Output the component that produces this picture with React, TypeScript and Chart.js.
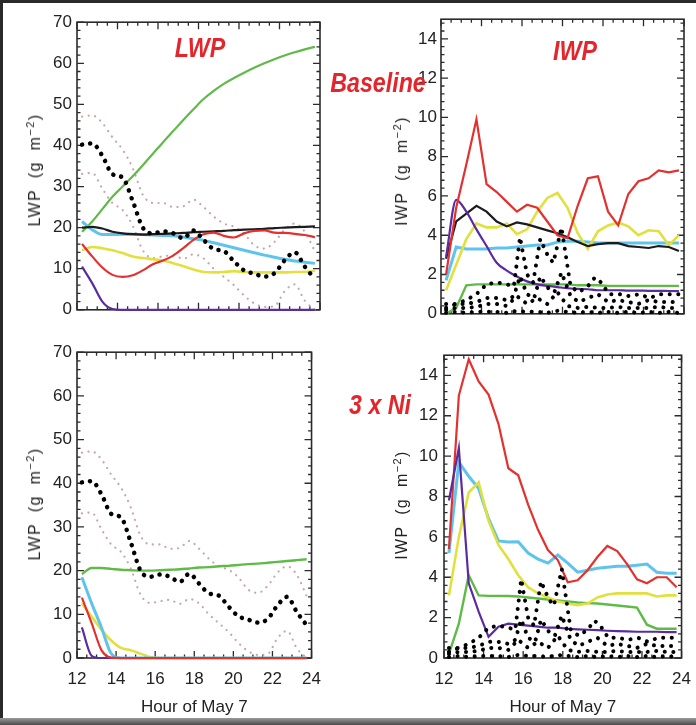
import React, { useEffect, useRef } from "react";
import { Chart, registerables } from "chart.js";
Chart.register(...registerables);

// ---------- shared axes ----------
const hours = [12.25, 12.75, 13.25, 13.75, 14.25, 14.75, 15.25, 15.75, 16.25, 16.75, 17.25, 17.75, 18.25, 18.75, 19.25, 19.75, 20.25, 20.75, 21.25, 21.75, 22.25, 22.75, 23.25, 23.75];
const hourTicks = [12, 14, 16, 18, 20, 22, 24];
const lwpTicks = [0, 10, 20, 30, 40, 50, 60, 70];
const iwpTicks = [0, 2, 4, 6, 8, 10, 12, 14];

// ---------- LWP, Baseline ----------
const lwpBaseGreen = [19.0, 21.5, 24.5, 27.5, 30.0, 32.5, 35.2, 38.0, 40.8, 43.5, 46.2, 48.8, 51.3, 53.3, 55.0, 56.4, 57.7, 58.9, 60.0, 61.0, 61.9, 62.7, 63.4, 64.0];
const lwpBaseBlack = [20.0, 20.2, 19.8, 19.0, 18.6, 18.4, 18.3, 18.4, 18.5, 18.6, 18.7, 18.9, 19.0, 19.1, 19.2, 19.4, 19.5, 19.6, 19.7, 19.9, 20.0, 20.1, 20.2, 20.3];
const lwpBaseCyan = [21.5, 19.5, 18.3, 18.3, 18.4, 18.4, 18.3, 18.2, 18.1, 18.0, 17.7, 17.3, 16.9, 16.3, 15.7, 15.1, 14.5, 13.9, 13.3, 12.8, 12.3, 11.9, 11.6, 11.3];
const lwpBaseRed = [16.0, 13.0, 10.3, 8.5, 8.0, 8.4, 9.6, 11.1, 12.0, 13.2, 15.0, 17.0, 18.4, 18.8, 18.0, 17.6, 18.6, 19.2, 19.3, 18.8, 18.7, 18.5, 18.2, 17.7];
const lwpBaseYellow = [14.5, 15.3, 15.0, 14.5, 13.8, 13.0, 12.6, 12.3, 12.0, 11.3, 10.6, 9.8, 9.2, 9.1, 9.2, 9.4, 9.2, 9.1, 9.1, 9.1, 9.1, 9.2, 9.2, 9.5];
const lwpBasePurple = [10.5, 6.5, 2.0, 0.2, 0, 0, 0, 0, 0, 0, 0, 0, 0, 0, 0, 0, 0, 0, 0, 0, 0, 0, 0, 0];

// ---------- LWP, 3 x Ni ----------
const lwpNiGreen = [19.2, 20.6, 20.6, 20.4, 20.2, 20.1, 20.0, 20.0, 20.1, 20.2, 20.3, 20.5, 20.7, 20.8, 21.0, 21.1, 21.3, 21.5, 21.6, 21.8, 22.0, 22.2, 22.4, 22.6];
const lwpNiCyan = [18.5, 12.5, 7.0, 1.0, 0, 0, 0, 0, 0, 0, 0, 0, 0, 0, 0, 0, 0, 0, 0, 0, 0, 0, 0, 0];
const lwpNiRed = [13.8, 8.0, 1.8, 0.1, 0, 0, 0, 0, 0, 0, 0, 0, 0, 0, 0, 0, 0, 0, 0, 0, 0, 0, 0, 0];
const lwpNiYellow = [12.5, 9.5, 6.5, 4.0, 2.3, 1.8, 1.0, 0.2, 0, 0, 0, 0, 0, 0, 0, 0, 0, 0, 0, 0, 0, 0, 0, 0];
const lwpNiPurple = [7.0, 0.5, 0, 0, 0, 0, 0, 0, 0, 0, 0, 0, 0, 0, 0, 0, 0, 0, 0, 0, 0, 0, 0, 0];

// ---------- LWP observations ----------
const lwpObsMean = [40.2, 40.5, 37.5, 33.0, 32.2, 26.5, 20.0, 18.6, 19.1, 18.6, 17.4, 19.3, 17.0, 14.8, 14.3, 11.8, 9.6, 8.8, 8.1, 8.9, 12.0, 14.0, 10.5, 7.5];
const lwpObsHigh = [47.0, 47.3, 45.5, 42.0, 39.0, 34.5, 28.0, 26.0, 26.0, 25.0, 25.2, 26.8, 25.0, 22.7, 21.0, 20.2, 18.5, 15.7, 14.9, 16.5, 19.5, 21.0, 19.0, 14.2];
const lwpObsLow = [33.1, 33.3, 29.5, 26.0, 24.3, 20.5, 14.5, 12.6, 13.0, 13.3, 12.4, 13.5, 12.5, 10.0, 8.0, 6.0, 3.5, 1.6, 0.7, 0.9, 4.5, 6.2, 2.2, 0.0];

// ---------- IWP, Baseline ----------
const iwpBaseRed = [2.0, 5.4, 7.6, 9.9, 6.6, 6.2, 5.7, 5.2, 5.55, 5.4, 4.7, 4.0, 3.85, 5.5, 6.9, 7.0, 5.2, 4.5, 6.1, 6.75, 6.9, 7.3, 7.2, 7.3];
const iwpBaseBlack = [2.8, 4.7, 5.1, 5.5, 5.2, 4.7, 4.45, 4.65, 4.55, 4.4, 4.25, 4.1, 3.9, 3.65, 3.45, 3.55, 3.6, 3.6, 3.45, 3.4, 3.35, 3.45, 3.4, 3.2];
const iwpBaseCyan = [1.7, 3.4, 3.3, 3.3, 3.3, 3.35, 3.35, 3.4, 3.45, 3.5, 3.5, 3.65, 3.7, 3.7, 3.65, 3.6, 3.6, 3.6, 3.6, 3.6, 3.6, 3.6, 3.6, 3.6];
const iwpBaseYellow = [1.2, 2.5, 3.8, 4.6, 4.4, 4.4, 4.6, 4.05, 4.3, 5.2, 5.9, 6.15, 5.4, 4.1, 3.3, 4.2, 4.5, 4.65, 4.45, 4.0, 4.25, 4.2, 3.5, 4.0];
const iwpBasePurple = [2.9, 5.8, 5.2, 4.3, 3.45, 2.6, 2.2, 1.9, 1.65, 1.5, 1.42, 1.36, 1.3, 1.27, 1.25, 1.2, 1.2, 1.2, 1.18, 1.18, 1.17, 1.17, 1.16, 1.15];
const iwpBaseGreen = [0.0, 0.3, 1.45, 1.5, 1.5, 1.5, 1.5, 1.5, 1.5, 1.5, 1.5, 1.5, 1.5, 1.45, 1.45, 1.45, 1.42, 1.42, 1.42, 1.42, 1.42, 1.42, 1.42, 1.42];

// ---------- IWP, 3 x Ni ----------
const iwpNiRed = [5.4, 13.0, 14.8, 13.7, 13.05, 11.6, 9.4, 9.05, 7.6, 6.35, 5.35, 4.85, 3.75, 3.85, 4.35, 5.0, 5.55, 5.3, 4.65, 3.9, 3.7, 4.0, 4.0, 3.5];
const iwpNiCyan = [5.2, 9.7, 9.0, 8.4, 6.9, 5.8, 5.75, 5.76, 5.2, 4.9, 4.7, 5.1, 4.7, 4.25, 4.35, 4.45, 4.5, 4.55, 4.55, 4.6, 4.65, 4.25, 4.2, 4.2];
const iwpNiYellow = [3.1, 6.0, 8.2, 8.7, 6.8, 5.6, 4.9, 4.1, 3.5, 3.2, 3.0, 2.8, 2.7, 2.62, 2.7, 3.0, 3.15, 3.2, 3.2, 3.2, 3.2, 3.05, 3.1, 3.1];
const iwpNiPurple = [7.8, 10.4, 3.7, 2.3, 1.05, 1.55, 1.7, 1.65, 1.6, 1.55, 1.5, 1.5, 1.45, 1.42, 1.4, 1.38, 1.35, 1.33, 1.32, 1.3, 1.3, 1.3, 1.28, 1.28];
const iwpNiGreen = [0.2, 1.7, 4.1, 3.1, 3.08, 3.08, 3.07, 3.05, 3.0, 2.95, 2.9, 2.85, 2.8, 2.75, 2.72, 2.7, 2.65, 2.6, 2.55, 2.5, 1.65, 1.45, 1.45, 1.45];

// ---------- IWP observations ----------
const iwpObsHighT = [12.25, 12.75, 13.25, 13.75, 14.25, 14.75, 15.25, 15.6, 15.9, 16.25, 16.55, 16.9, 17.3, 17.55, 17.95, 18.4, 18.8, 19.25, 19.6, 19.9, 20.3, 20.8, 21.3, 21.8, 22.3, 22.8, 23.3, 23.75];
const iwpObsHighV = [0.5, 0.5, 0.7, 1.0, 1.5, 1.6, 1.5, 1.4, 3.9, 2.0, 1.6, 3.8, 2.9, 2.6, 4.4, 1.4, 1.1, 1.4, 1.85, 1.6, 1.0, 1.0, 0.9, 1.0, 0.8, 1.0, 1.0, 1.0];
const iwpObsMidT = [12.25, 12.75, 13.25, 13.75, 14.25, 14.75, 15.25, 15.6, 15.9, 16.25, 16.6, 16.9, 17.3, 17.6, 17.95, 18.4, 18.8, 19.25, 19.75, 20.25, 20.75, 21.25, 21.75, 22.25, 22.75, 23.25, 23.75];
const iwpObsMidV = [0.3, 0.5, 0.5, 0.6, 0.8, 0.8, 0.7, 0.9, 1.9, 1.0, 0.8, 1.9, 1.3, 1.1, 2.1, 0.9, 0.6, 0.8, 1.0, 0.6, 0.7, 0.6, 0.5, 0.7, 0.6, 0.6, 0.6];
const iwpObsLowV = [0.2, 0.3, 0.3, 0.35, 0.5, 0.5, 0.4, 0.9, 0.5, 0.8, 0.5, 1.1, 0.4, 0.3, 0.35, 0.3, 0.3, 0.35, 0.3, 0.3, 0.3, 0.35, 0.3, 0.3];
const iwpObsMinV = [0.05, 0.1, 0.05, 0.1, 0.1, 0.1, 0.05, 0.15, 0.1, 0.1, 0.05, 0.15, 0.1, 0.05, 0.1, 0.05, 0.1, 0.05, 0.1, 0.05, 0.1, 0.05, 0.1, 0.05];

// ---------- styles ----------
const C = {
  green: "#5fba48",
  black: "#1c1c1c",
  cyan: "#5fc4ec",
  red: "#e3312f",
  yellow: "#e2e03e",
  purple: "#5a2c9e",
  obsGray: "#c7a6a6",
  obs: "#000000",
};
const FONT = '"Liberation Sans", Arial, sans-serif';

type S = { t: number[]; v: number[]; color: string; width: number; kind: "line" | "obs" | "obsThin" | "obsIwp"; smooth?: boolean };

function toDataset(s: S) {
  const d: any = {
    data: s.t.map((x, i) => ({ x, y: s.v[i] })),
    borderColor: s.color,
    backgroundColor: s.color,
    borderWidth: s.width,
    pointRadius: 0,
    pointHoverRadius: 0,
    fill: false,
    clip: 8,
  };
  if (s.kind === "obs") { d.borderDash = [0.1, 8]; d.borderCapStyle = "round"; d.borderJoinStyle = "round"; }
  if (s.kind === "obsThin") { d.borderDash = [0.1, 6.5]; d.borderCapStyle = "round"; d.borderJoinStyle = "round"; }
  if (s.kind === "obsIwp") { d.borderDash = [0.1, 8.5]; d.borderCapStyle = "round"; d.borderJoinStyle = "round"; }
  if (s.smooth) d.cubicInterpolationMode = "monotone"; else d.tension = 0;
  return d;
}

const framePlugin = {
  id: "frame",
  beforeDatasetsDraw(chart: any, _a: any, opts: any) {
    const { ctx, chartArea: a } = chart;
    const xs = chart.scales.x, ys = chart.scales.y;
    ctx.save();
    ctx.strokeStyle = "#2b2b2b";
    ctx.lineWidth = 1.6;
    ctx.strokeRect(a.left, a.top, a.right - a.left, a.bottom - a.top);
    ctx.lineWidth = 1.3;
    ctx.beginPath();
    const nx = Math.floor((xs.max - xs.min) / opts.xMinor + 1e-6);
    for (let i = 0; i <= nx; i++) {
      const v = xs.min + i * opts.xMinor;
      const major = Math.abs(v / opts.xMajor - Math.round(v / opts.xMajor)) < 1e-6;
      const len = major ? 7 : 3.5;
      const px = xs.getPixelForValue(v);
      ctx.moveTo(px, a.bottom); ctx.lineTo(px, a.bottom - len);
      ctx.moveTo(px, a.top); ctx.lineTo(px, a.top + len);
    }
    const ny = Math.floor((ys.max - ys.min) / opts.yMinor + 1e-6);
    for (let i = 0; i <= ny; i++) {
      const v = ys.min + i * opts.yMinor;
      const major = Math.abs(v / opts.yMajor - Math.round(v / opts.yMajor)) < 1e-6;
      const len = major ? 7 : 3.5;
      const py = ys.getPixelForValue(v);
      ctx.moveTo(a.left, py); ctx.lineTo(a.left + len, py);
      ctx.moveTo(a.right, py); ctx.lineTo(a.right - len, py);
    }
    ctx.stroke();
    ctx.restore();
  },
};

type PanelCfg = {
  left: number; top: number; right: number; bottom: number;
  axisW: number; labelPad: number;
  yMax: number; yTicks: number[]; yMajor: number; yMinor: number;
  yName: string; titleX: number; showX: boolean; series: S[];
};

function Panel({ cfg }: { cfg: PanelCfg }) {
  const ref = useRef<HTMLCanvasElement>(null);
  const padTop = 12, padRight = 12;
  const xH = cfg.showX ? 725 - cfg.bottom : 4;
  const cw = cfg.axisW + (cfg.right - cfg.left) + padRight;
  const ch = padTop + (cfg.bottom - cfg.top) + xH;
  const cl = cfg.left - cfg.axisW;
  const ct = cfg.top - padTop;
  useEffect(() => {
    const chart = new Chart(ref.current as HTMLCanvasElement, {
      type: "line",
      data: { datasets: cfg.series.map(toDataset) },
      plugins: [framePlugin as any],
      options: {
        animation: false,
        responsive: false,
        events: [],
        layout: { padding: { top: padTop, right: padRight, left: 0, bottom: 0 } },
        plugins: {
          legend: { display: false },
          tooltip: { enabled: false },
          frame: { xMinor: 0.5, xMajor: 2, yMinor: cfg.yMinor, yMajor: cfg.yMajor },
        } as any,
        scales: {
          x: {
            type: "linear",
            min: 12,
            max: 24,
            grid: { display: false, drawTicks: false },
            border: { display: false },
            afterBuildTicks: (s: any) => { s.ticks = hourTicks.map((v) => ({ value: v })); },
            afterFit: (s: any) => { s.height = xH; },
            ticks: { display: cfg.showX, autoSkip: false, maxRotation: 0, padding: 11, color: "#222", font: { family: FONT, size: 17 } },
            title: {
              display: cfg.showX,
              text: "Hour of May 7",
              color: "#222",
              font: { family: FONT, size: 17 },
              padding: { top: 0, bottom: 7 },
            },
          },
          y: {
            type: "linear",
            min: 0,
            max: cfg.yMax,
            grid: { display: false, drawTicks: false },
            border: { display: false },
            afterBuildTicks: (s: any) => { s.ticks = cfg.yTicks.map((v) => ({ value: v })); },
            afterFit: (s: any) => { s.width = cfg.axisW; },
            ticks: { autoSkip: false, padding: cfg.labelPad, color: "#222", font: { family: FONT, size: 17 } },
            title: { display: false },
          },
        },
      } as any,
    });
    return () => chart.destroy();
  }, []);
  return (
    <>
      <canvas
        ref={ref}
        width={cw}
        height={ch}
        style={{ position: "absolute", left: cl, top: ct, width: cw, height: ch }}
      />
      <div
        style={{
          position: "absolute",
          left: cfg.titleX,
          top: (cfg.top + cfg.bottom) / 2,
          transform: "translate(-50%, -50%) rotate(-90deg)",
          fontFamily: FONT,
          fontSize: 16,
          lineHeight: "18px",
          letterSpacing: "1.4px",
          wordSpacing: "5px",
          whiteSpace: "nowrap",
          color: "#222",
        }}
      >
        {cfg.yName} (g m<sup style={{ fontSize: 11, lineHeight: 0, verticalAlign: "6px" }}>{"\u2212"}2</sup>)
      </div>
    </>
  );
}

const lwpObsSeries: S[] = [
  { t: hours, v: lwpObsMean, color: C.obs, width: 4.5, kind: "obs", smooth: true },
];
const lwpObsGraySeries: S[] = [
  { t: hours, v: lwpObsHigh, color: C.obsGray, width: 2.2, kind: "obsThin", smooth: true },
  { t: hours, v: lwpObsLow, color: C.obsGray, width: 2.2, kind: "obsThin", smooth: true },
];
const iwpObsSeries: S[] = [
  { t: iwpObsHighT, v: iwpObsHighV, color: C.obs, width: 4, kind: "obsIwp" },
  { t: iwpObsMidT, v: iwpObsMidV, color: C.obs, width: 4, kind: "obsIwp" },
  { t: hours, v: iwpObsLowV, color: C.obs, width: 4, kind: "obsIwp" },
  { t: hours, v: iwpObsMinV, color: C.obs, width: 4, kind: "obsIwp" },
];

const panels: PanelCfg[] = [
  {
    left: 77, top: 19, right: 320, bottom: 321, axisW: 62, labelPad: 5,
    yMax: 70, yTicks: lwpTicks, yMajor: 10, yMinor: 2, yName: "LWP", titleX: 35, showX: false,
    series: [
      ...lwpObsSeries,
      { t: hours, v: lwpBaseRed, color: C.red, width: 2.2, kind: "line", smooth: true },
      { t: hours, v: lwpBasePurple, color: C.purple, width: 2.2, kind: "line", smooth: true },
      { t: hours, v: lwpBaseBlack, color: C.black, width: 2.2, kind: "line", smooth: true },
      { t: hours, v: lwpBaseCyan, color: C.cyan, width: 3, kind: "line", smooth: true },
      { t: hours, v: lwpBaseYellow, color: C.yellow, width: 2.6, kind: "line", smooth: true },
      { t: hours, v: lwpBaseGreen, color: C.green, width: 2.2, kind: "line", smooth: true },
      ...lwpObsGraySeries,
    ],
  },
  {
    left: 441, top: 17, right: 684, bottom: 324, axisW: 60, labelPad: 4,
    yMax: 15, yTicks: iwpTicks, yMajor: 2, yMinor: 0.4, yName: "IWP", titleX: 402, showX: false,
    series: [
      ...iwpObsSeries,
      { t: hours, v: iwpBaseRed, color: C.red, width: 2.2, kind: "line" },
      { t: hours, v: iwpBasePurple, color: C.purple, width: 2.2, kind: "line", smooth: true },
      { t: hours, v: iwpBaseBlack, color: C.black, width: 2.2, kind: "line" },
      { t: hours, v: iwpBaseYellow, color: C.yellow, width: 2.6, kind: "line" },
      { t: hours, v: iwpBaseCyan, color: C.cyan, width: 3, kind: "line" },
      { t: hours, v: iwpBaseGreen, color: C.green, width: 2.4, kind: "line" },
    ],
  },
  {
    left: 77, top: 349, right: 320, bottom: 658, axisW: 62, labelPad: 5,
    yMax: 70, yTicks: lwpTicks, yMajor: 10, yMinor: 2, yName: "LWP", titleX: 35, showX: true,
    series: [
      ...lwpObsSeries,
      { t: hours, v: lwpNiRed, color: C.red, width: 2.2, kind: "line", smooth: true },
      { t: hours, v: lwpNiPurple, color: C.purple, width: 2.2, kind: "line", smooth: true },
      { t: hours, v: lwpNiCyan, color: C.cyan, width: 3, kind: "line", smooth: true },
      { t: hours, v: lwpNiYellow, color: C.yellow, width: 2.6, kind: "line", smooth: true },
      { t: hours, v: lwpNiGreen, color: C.green, width: 2.4, kind: "line", smooth: true },
      ...lwpObsGraySeries,
    ],
  },
  {
    left: 444, top: 351, right: 690, bottom: 658, axisW: 62, labelPad: 6,
    yMax: 15, yTicks: iwpTicks, yMajor: 2, yMinor: 0.4, yName: "IWP", titleX: 402, showX: true,
    series: [
      ...iwpObsSeries,
      { t: hours, v: iwpNiPurple, color: C.purple, width: 2.2, kind: "line" },
      { t: hours, v: iwpNiRed, color: C.red, width: 2.2, kind: "line" },
      { t: hours, v: iwpNiYellow, color: C.yellow, width: 2.6, kind: "line" },
      { t: hours, v: iwpNiCyan, color: C.cyan, width: 3, kind: "line" },
      { t: hours, v: iwpNiGreen, color: C.green, width: 2.4, kind: "line" },
    ],
  },
];

function RedLabel({ text, cx, cy }: { text: string; cx: number; cy: number }) {
  return (
    <div
      style={{
        position: "absolute",
        left: cx,
        top: cy,
        transform: "translate(-50%, -50%) scaleX(0.86)",
        color: "#e4252b",
        fontFamily: FONT,
        fontStyle: "italic",
        fontWeight: "bold",
        fontSize: 27,
        lineHeight: "27px",
        whiteSpace: "nowrap",
      }}
    >
      {text}
    </div>
  );
}

export default function App() {
  return (
    <div style={{ position: "absolute", left: 0, top: 0, width: 696, height: 725, overflow: "hidden", background: "#fff" }}>
      {panels.map((p, i) => (
        <Panel key={i} cfg={p} />
      ))}
      <div style={{ position: "absolute", left: 0, top: 0, width: 3, height: 725, background: "#2a2a2a" }} />
      <div style={{ position: "absolute", left: 0, top: 0, width: 696, height: 3, background: "#2a2a2a" }} />
      <div style={{ position: "absolute", left: 0, top: 718, width: 696, height: 7, background: "linear-gradient(#9a9a9a, #4a4a4a)" }} />
      <RedLabel text="LWP" cx={200} cy={48} />
      <RedLabel text="IWP" cx={575} cy={51} />
      <RedLabel text="Baseline" cx={378} cy={83} />
      <RedLabel text="3 x Ni" cx={380} cy={405} />
    </div>
  );
}
